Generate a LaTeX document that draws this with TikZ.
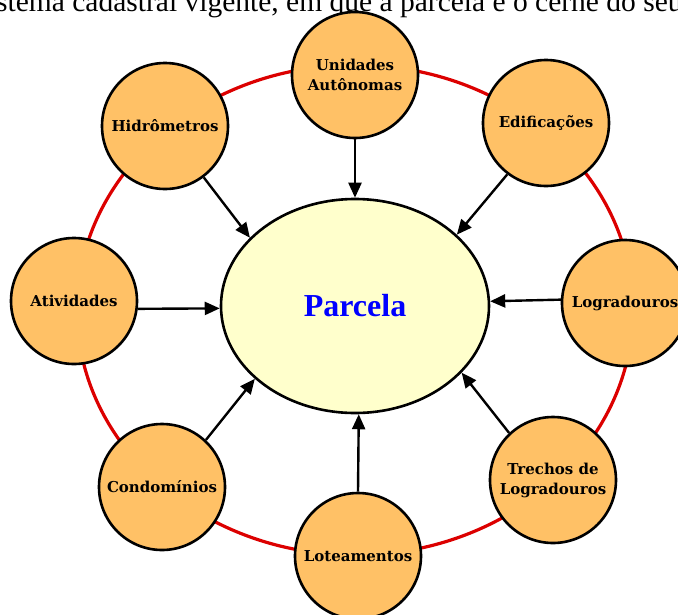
\documentclass[tikz,border=0pt]{standalone}
\usepackage{fontspec}
\setmainfont{Liberation Serif}
\newfontfamily\labfont{DejaVu Serif}
\usetikzlibrary{shapes.geometric,arrows.meta}
\definecolor{orangefill}{RGB}{255,193,102}
\definecolor{yellowfill}{RGB}{255,255,204}
\definecolor{ringred}{RGB}{220,0,0}
\definecolor{textblue}{RGB}{0,0,255}
\tikzset{
  sat/.style={circle, draw=black, line width=2.6pt, fill=orangefill, minimum size=126pt, inner sep=0pt,
    align=center, font=\labfont\bfseries\fontsize{15}{20}\selectfont},
  core/.style={ellipse, draw=black, line width=2.6pt, fill=yellowfill, minimum width=268pt, minimum height=214pt,
    inner sep=0pt, font=\bfseries\fontsize{32}{36}\selectfont, text=textblue},
  ring/.style={draw=ringred, line width=3.2pt},
  arr/.style={draw=black, line width=2.4pt, -{Triangle[length=15pt,width=13pt]}}
}
\begin{document}
\begin{tikzpicture}[x=1pt,y=-1pt]
\useasboundingbox (0,0) rectangle (678,614);
\node[anchor=base west, inner sep=0pt, font=\fontsize{29.5}{32}\selectfont] (top) at (-4,11) {stema cadastral vigente, em que a parcela é o cerne do seu};
\draw[ring] (355,310) ellipse [x radius=278, y radius=245];
\node[core] (parc) at (355,306) {Parcela};
\node[sat] (unid) at (355,75) {Unidades\\Autônomas};
\node[sat] (hid) at (165,126) {Hidrômetros};
\node[sat] (edif) at (546,123) {Edificações};
\node[sat] (ativ) at (74,301) {Atividades};
\node[sat] (logr) at (625,303) {Logradouros};
\node[sat] (trech) at (553,480) {Trechos de\\Logradouros};
\node[sat] (lote) at (358,556) {Loteamentos};
\node[sat] (cond) at (162,487) {Condomínios};
\draw[arr] (unid.-90) -- (parc.90);
\draw[arr] (hid.-53) -- (parc.147);
\draw[arr] (edif.-127) -- (parc.35);
\draw[arr] (ativ.-7) -- (parc.181);
\draw[arr] (logr.177) -- (parc.2.5);
\draw[arr] (cond.47.5) -- (parc.216.6);
\draw[arr] (trech.133) -- (parc.-32.5);
\draw[arr] (lote.90) -- (parc.-88.5);
\end{tikzpicture}
\end{document}
